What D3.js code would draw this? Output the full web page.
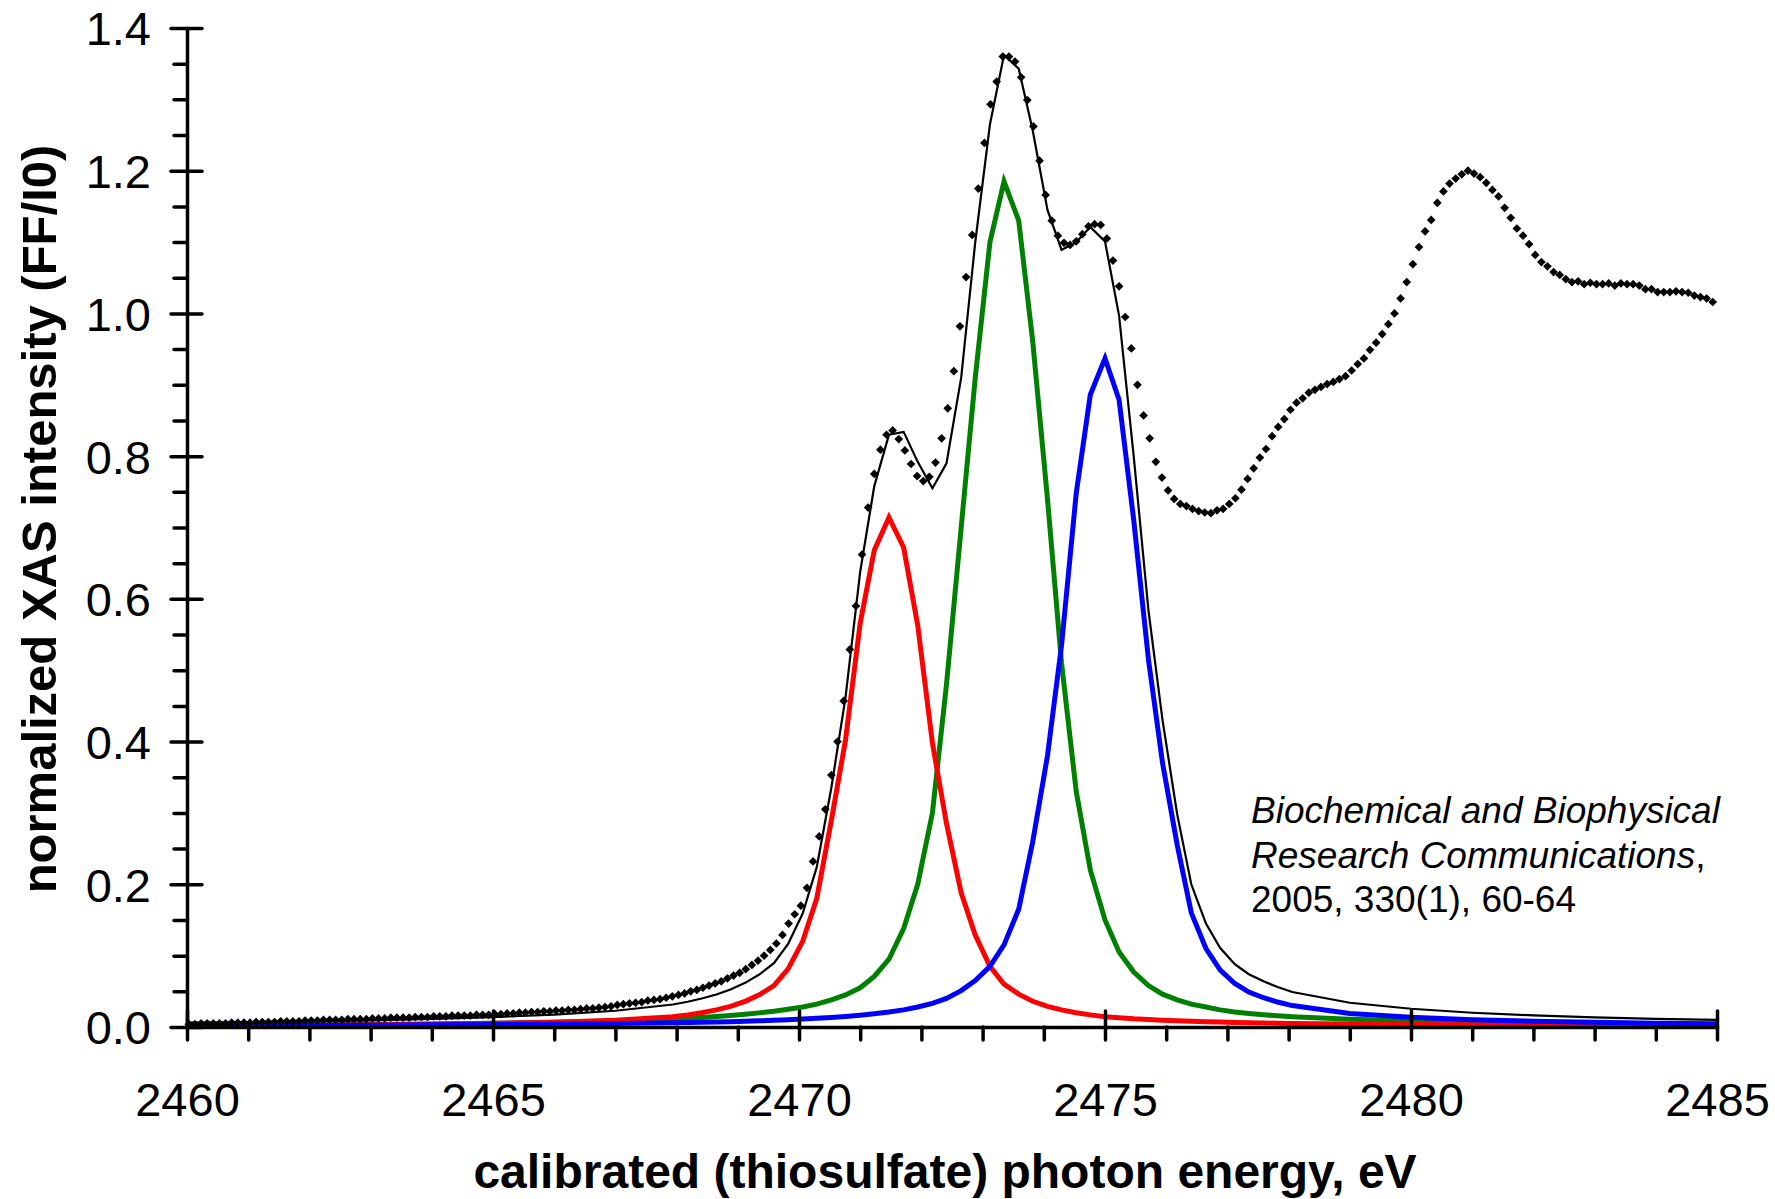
<!DOCTYPE html>
<html>
<head>
<meta charset="utf-8">
<script src="https://cdn.jsdelivr.net/npm/d3@7"></script>
<style>
  body { margin: 0; background: #fff; }
  svg text { font-family: "Liberation Sans", Arial, sans-serif; fill: #000; }
</style>
</head>
<body>
<div id="chart"></div>
<script>
// axis ticks
const xMajorTicks = [2460, 2465, 2470, 2475, 2480, 2485];
const xMinorTicks = [2461, 2462, 2463, 2464, 2466, 2467, 2468, 2469, 2471, 2472, 2473, 2474,
    2476, 2477, 2478, 2479, 2481, 2482, 2483, 2484];
const yMajorTicks = [0, 0.2, 0.4, 0.6, 0.8, 1.0, 1.2, 1.4];
const yMinorTicks = [0.05, 0.1, 0.15, 0.25, 0.3, 0.35, 0.45, 0.5, 0.55, 0.65, 0.7, 0.75,
    0.85, 0.9, 0.95, 1.05, 1.1, 1.15, 1.25, 1.3, 1.35];

// measured spectrum: first energy, step (eV) and normalized intensity of each point
const expStart = 2460.03;
const expStep = 0.1;
const expIntensity = [
    0.004, 0.004, 0.005, 0.005, 0.005, 0.005, 0.005, 0.006, 0.006, 0.006,
    0.006, 0.007, 0.007, 0.007, 0.007, 0.008, 0.008, 0.008, 0.008, 0.009,
    0.009, 0.009, 0.010, 0.010, 0.010, 0.010, 0.011, 0.011, 0.011, 0.011,
    0.012, 0.012, 0.012, 0.013, 0.013, 0.013, 0.013, 0.014, 0.014, 0.014,
    0.015, 0.015, 0.015, 0.016, 0.016, 0.016, 0.016, 0.017, 0.017, 0.017,
    0.018, 0.018, 0.019, 0.019, 0.020, 0.020, 0.021, 0.021, 0.022, 0.022,
    0.023, 0.023, 0.024, 0.024, 0.025, 0.026, 0.026, 0.027, 0.028, 0.029,
    0.031, 0.032, 0.033, 0.034, 0.035, 0.037, 0.038, 0.039, 0.041, 0.043,
    0.045, 0.047, 0.050, 0.052, 0.055, 0.058, 0.061, 0.064, 0.068, 0.072,
    0.076, 0.081, 0.087, 0.093, 0.100, 0.108, 0.117, 0.129, 0.145, 0.158,
    0.170, 0.195, 0.232, 0.267, 0.305, 0.353, 0.400, 0.457, 0.529, 0.590,
    0.662, 0.728, 0.775, 0.809, 0.830, 0.836, 0.824, 0.808, 0.789, 0.772,
    0.765, 0.771, 0.791, 0.825, 0.867, 0.919, 0.982, 1.051, 1.110, 1.175,
    1.239, 1.293, 1.325, 1.360, 1.360, 1.353, 1.331, 1.299, 1.262, 1.214,
    1.166, 1.130, 1.109, 1.099, 1.096, 1.101, 1.111, 1.122, 1.125, 1.124,
    1.105, 1.074, 1.038, 0.995, 0.951, 0.900, 0.857, 0.825, 0.792, 0.770,
    0.752, 0.740, 0.733, 0.730, 0.726, 0.723, 0.721, 0.720, 0.724, 0.726,
    0.733, 0.741, 0.753, 0.768, 0.783, 0.798, 0.810, 0.828, 0.841, 0.852,
    0.865, 0.875, 0.881, 0.889, 0.893, 0.897, 0.901, 0.904, 0.908, 0.912,
    0.920, 0.929, 0.937, 0.949, 0.959, 0.971, 0.985, 1.000, 1.021, 1.044,
    1.069, 1.093, 1.115, 1.131, 1.155, 1.171, 1.182, 1.189, 1.195, 1.200,
    1.196, 1.191, 1.183, 1.173, 1.164, 1.148, 1.134, 1.119, 1.109, 1.097,
    1.082, 1.072, 1.066, 1.058, 1.054, 1.048, 1.044, 1.045, 1.041, 1.043,
    1.041, 1.041, 1.042, 1.039, 1.042, 1.041, 1.041, 1.039, 1.034, 1.034,
    1.030, 1.030, 1.030, 1.031, 1.030, 1.029, 1.025, 1.023, 1.021, 1.016
];

// fitted components, sampled on the fit energy grid
const fitEnergy = [
    2460, 2461, 2462, 2463, 2464, 2465, 2466, 2467,
    2467.94, 2468.18, 2468.41, 2468.65, 2468.88, 2469.12, 2469.35, 2469.59, 2469.82, 2470.06,
    2470.29, 2470.53, 2470.76, 2471.00, 2471.23, 2471.47, 2471.71, 2471.94, 2472.18, 2472.41,
    2472.65, 2472.88, 2473.12, 2473.35, 2473.59, 2473.82, 2474.06, 2474.29, 2474.53, 2474.76,
    2475.00, 2475.23, 2475.47, 2475.71, 2475.94, 2476.18, 2476.41, 2476.65, 2476.88, 2477.12,
    2477.35, 2477.59, 2477.82, 2478.06,
    2479, 2480, 2481, 2482, 2483, 2484, 2485
];
const fitTotal = [
    0.006, 0.0068, 0.0079, 0.0094, 0.0113, 0.0138, 0.0174, 0.0228,
    0.0315, 0.0354, 0.0399, 0.0456, 0.0525, 0.0619, 0.0735, 0.0894, 0.116, 0.159,
    0.224, 0.336, 0.462, 0.638, 0.758, 0.830, 0.834, 0.792, 0.755, 0.790,
    0.910, 1.100, 1.265, 1.362, 1.343, 1.256, 1.145, 1.089, 1.100, 1.121,
    1.101, 0.997, 0.799, 0.584, 0.430, 0.298, 0.200, 0.145, 0.111, 0.088,
    0.074, 0.064, 0.056, 0.049,
    0.034, 0.0256, 0.020, 0.0163, 0.0136, 0.0115, 0.010
];
const peakRed = [
    0.0019, 0.0022, 0.0026, 0.0032, 0.004, 0.0051, 0.0068, 0.0095,
    0.0145, 0.017, 0.020, 0.024, 0.029, 0.036, 0.045, 0.058, 0.081, 0.120,
    0.180, 0.290, 0.402, 0.566, 0.668, 0.714, 0.672, 0.563, 0.398, 0.285,
    0.188, 0.129, 0.085, 0.060, 0.046, 0.036, 0.029, 0.024, 0.020, 0.017,
    0.0145, 0.013, 0.0115, 0.0105, 0.0095, 0.0087, 0.008, 0.0074, 0.0069, 0.0064,
    0.006, 0.0056, 0.0053, 0.005,
    0.0042, 0.0035, 0.003, 0.0026, 0.0023, 0.002, 0.0018
];
const peakGreen = [
    0.0023, 0.0026, 0.003, 0.0036, 0.0043, 0.0053, 0.0066, 0.0085,
    0.0112, 0.0122, 0.0133, 0.0146, 0.016, 0.0178, 0.0198, 0.022, 0.025, 0.028,
    0.032, 0.038, 0.045, 0.055, 0.071, 0.095, 0.138, 0.200, 0.300, 0.480,
    0.700, 0.910, 1.100, 1.185, 1.130, 0.960, 0.740, 0.510, 0.330, 0.220,
    0.150, 0.105, 0.077, 0.058, 0.046, 0.038, 0.032, 0.028, 0.024, 0.021,
    0.019, 0.0172, 0.0157, 0.0144,
    0.011, 0.0086, 0.0069, 0.0057, 0.0048, 0.0041, 0.0036
];
const peakBlue = [
    0.0018, 0.002, 0.0023, 0.0026, 0.003, 0.0034, 0.004, 0.0048,
    0.0058, 0.0062, 0.0066, 0.007, 0.0075, 0.0081, 0.0087, 0.0094, 0.0102, 0.0111,
    0.0122, 0.0134, 0.0148, 0.0165, 0.0185, 0.021, 0.024, 0.028, 0.033, 0.040,
    0.051, 0.065, 0.085, 0.115, 0.165, 0.260, 0.380, 0.535, 0.748, 0.886,
    0.937, 0.879, 0.710, 0.515, 0.370, 0.255, 0.160, 0.110, 0.080, 0.061,
    0.049, 0.041, 0.035, 0.030,
    0.019, 0.0135, 0.0102, 0.008, 0.0065, 0.0054, 0.0046
];

const citationLines = [
    [{ text: 'Biochemical and Biophysical', italic: true }],
    [{ text: 'Research Communications', italic: true }, { text: ',', italic: false }],
    [{ text: '2005, 330(1), 60-64', italic: false }]
];

const width = 1775, height = 1199;
const margin = { top: 28, right: 58, bottom: 172, left: 187 };

const svg = d3.select('#chart')
    .append('svg')
    .attr('width', width)
    .attr('height', height);

const x = d3.scaleLinear()
    .domain([2460, 2485])
    .range([margin.left, width - margin.right]);

const y = d3.scaleLinear()
    .domain([0, 1.4])
    .range([height - margin.bottom, margin.top]);

const lineOf = values => d3.line()
    .x((d, i) => x(fitEnergy[i]))
    .y(d => y(d))(values);

// fit curves
const curves = [
    { values: fitTotal, color: '#000000', width: 2.2 },
    { values: peakGreen, color: '#008000', width: 5 },
    { values: peakRed, color: '#ff0000', width: 5 },
    { values: peakBlue, color: '#0000ff', width: 5 }
];

svg.append('g')
    .selectAll('path')
    .data(curves)
    .join('path')
    .attr('d', d => lineOf(d.values))
    .attr('fill', 'none')
    .attr('stroke', d => d.color)
    .attr('stroke-width', d => d.width)
    .attr('stroke-linejoin', 'miter');

// measured points as diamonds
const diamond = d3.symbol().type(d3.symbolSquare).size(38);
svg.append('g')
    .selectAll('path')
    .data(expIntensity)
    .join('path')
    .attr('d', diamond)
    .attr('transform', (d, i) => `translate(${x(expStart + i * expStep)},${y(d)}) rotate(45)`)
    .attr('fill', '#000');

// x axis
const xAxisY = y(0);
const xMinorG = svg.append('g')
    .attr('transform', `translate(0,${xAxisY})`)
    .call(d3.axisBottom(x).tickValues(xMinorTicks).tickSizeInner(13).tickSizeOuter(0).tickFormat(''));
xMinorG.select('.domain').remove();

const xMajorG = svg.append('g')
    .attr('transform', `translate(0,${xAxisY})`)
    .call(d3.axisBottom(x).tickValues(xMajorTicks).tickSizeInner(13).tickSizeOuter(0).tickFormat(d3.format('d')));
xMajorG.selectAll('.tick').append('line')
    .attr('y1', 0)
    .attr('y2', -16);
xMajorG.selectAll('.tick text')
    .attr('y', 56)
    .attr('dy', '0.71em')
    .style('font-size', '47px');

// y axis
const yAxisX = x(2460);
const yMinorG = svg.append('g')
    .attr('transform', `translate(${yAxisX},0)`)
    .call(d3.axisLeft(y).tickValues(yMinorTicks).tickSizeInner(13).tickSizeOuter(0).tickFormat(''));
yMinorG.select('.domain').remove();

const yMajorG = svg.append('g')
    .attr('transform', `translate(${yAxisX},0)`)
    .call(d3.axisLeft(y).tickValues(yMajorTicks).tickSizeInner(16).tickSizeOuter(0).tickFormat(d3.format('.1f')));
yMajorG.selectAll('.tick').append('line')
    .attr('x1', 0)
    .attr('x2', 15);
yMajorG.selectAll('.tick text')
    .attr('x', -36)
    .attr('dy', '0.36em')
    .style('font-size', '47px');

svg.selectAll('.domain, .tick line')
    .attr('stroke', '#000')
    .attr('stroke-width', 3.5)
    .attr('stroke-linecap', 'round');
svg.selectAll('.tick text').attr('fill', '#000');

// axis titles
svg.append('text')
    .attr('x', 945)
    .attr('y', 1188)
    .attr('text-anchor', 'middle')
    .style('font-size', '48px')
    .style('font-weight', 'bold')
    .text('calibrated (thiosulfate) photon energy, eV');

svg.append('text')
    .attr('transform', 'translate(56,519) rotate(-90)')
    .attr('text-anchor', 'middle')
    .style('font-size', '49px')
    .style('font-weight', 'bold')
    .text('normalized XAS intensity (FF/I0)');

// citation
const citation = svg.append('text')
    .attr('x', 1251)
    .attr('y', 823)
    .style('font-size', '37px');
citationLines.forEach((parts, li) => {
    parts.forEach((p, pi) => {
        const span = citation.append('tspan')
            .style('font-style', p.italic ? 'italic' : 'normal')
            .text(p.text);
        if (pi === 0) {
            span.attr('x', 1251).attr('dy', li === 0 ? 0 : 44.5);
        }
    });
});
</script>
</body>
</html>
